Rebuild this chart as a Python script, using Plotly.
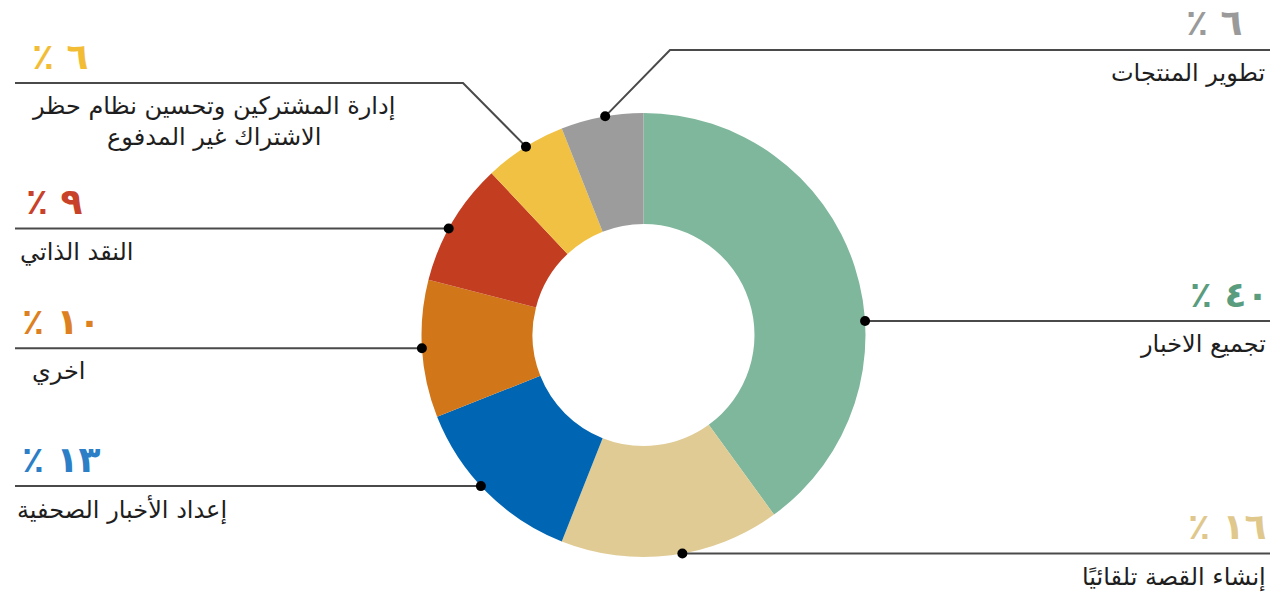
import math
import plotly.graph_objects as go

# ---- data ----
labels = ["تجميع الاخبار", "إنشاء القصة تلقائيًا", "إعداد الأخبار الصحفية", "اخري",
          "النقد الذاتي", "إدارة المشتركين وتحسين نظام حظر<br>الاشتراك غير المدفوع", "تطوير المنتجات"]
values = [40, 16, 13, 10, 9, 6, 6]
pct_labels = ["٪ ٤٠", "٪ ١٦", "٪ ١٣", "٪ ١٠", "٪ ٩", "٪ ٦", "٪ ٦"]

# ---- styling / layout ----
slice_colors = ["#7eb79b", "#e0cb94", "#0066b3", "#d2761a", "#c33d20", "#f1c143", "#9c9c9c"]
text_colors = ["#5a9c7e", "#e0c88c", "#2c7fc6", "#dd801f", "#c8422a", "#f2bd35", "#9a9a9a"]

W, H = 1282, 593
CX, CY, R = 643.5, 335.0, 222.0  # pie centre / radius in px

# where along each slice the leader dot sits (fraction of slice angle)
anchor_frac = [0.6, 0.45, 0.545, 0.505, 0.44, 0.52, 0.54]
side = ["right", "right", "left", "left", "left", "left", "right"]
# elbow (x, line y) for leader lines that bend; None -> straight horizontal
elbow = [None, None, None, None, None, (463, 83), (670, 50)]
left_end, right_end = 15, 1270
pct_x = [1270, 1268, 20, 20, 24, 30, 1245]
desc_x = [1268, 1268, 15, 30, 18, 213, 1267]

def px(x):
    return x / W

def py(y):
    return 1 - y / H

fig = go.Figure()
fig.add_trace(go.Pie(
    values=values, labels=[l.replace("<br>", " ") for l in labels],
    sort=False, direction="clockwise", rotation=0, hole=0.5,
    marker=dict(colors=slice_colors, line=dict(width=0)),
    textinfo="none", hoverinfo="label+percent", showlegend=False,
    domain=dict(x=[px(CX - R), px(CX + R)], y=[py(CY + R), py(CY - R)]),
))

total = sum(values)
shapes, annotations = [], []
cum = 0.0
for i, v in enumerate(values):
    theta = (cum + anchor_frac[i] * v) / total * 2 * math.pi
    cum += v
    dx = CX + R * math.sin(theta)
    dy = CY - R * math.cos(theta)
    if elbow[i] is None:
        line_y = dy
        pts = [(dx, dy)]
    else:
        ex, line_y = elbow[i]
        pts = [(dx, dy), (ex, line_y)]
    end_x = right_end if side[i] == "right" else left_end
    pts.append((end_x, line_y))
    path = "M " + " L ".join(f"{px(a):.5f},{py(b):.5f}" for a, b in pts)
    shapes.append(dict(type="path", path=path, xref="paper", yref="paper",
                       line=dict(color="#4a4a4a", width=2), layer="above"))
    r = 5
    shapes.append(dict(type="circle", xref="paper", yref="paper",
                       x0=px(dx - r), x1=px(dx + r), y0=py(dy + r), y1=py(dy - r),
                       fillcolor="#000000", line=dict(width=0), layer="above"))
    anchor = "right" if side[i] == "right" else "left"
    annotations.append(dict(
        text=f"<b>{pct_labels[i]}</b>", x=px(pct_x[i]), y=py(line_y - 27),
        xref="paper", yref="paper", xanchor=anchor, yanchor="middle", showarrow=False,
        font=dict(family="DejaVu Sans", size=36, color=text_colors[i])))
    multi = "<br>" in labels[i]
    annotations.append(dict(
        text=labels[i], x=px(desc_x[i]), y=py(line_y + 7),
        xref="paper", yref="paper",
        xanchor=("center" if multi else anchor), yanchor="top",
        align="center", showarrow=False,
        font=dict(family="DejaVu Sans", size=24, color="#1e1e1e")))

fig.update_layout(
    width=W, height=H, margin=dict(l=0, r=0, t=0, b=0),
    paper_bgcolor="white", plot_bgcolor="white",
    shapes=shapes, annotations=annotations,
)
fig.write_html("out.html")
